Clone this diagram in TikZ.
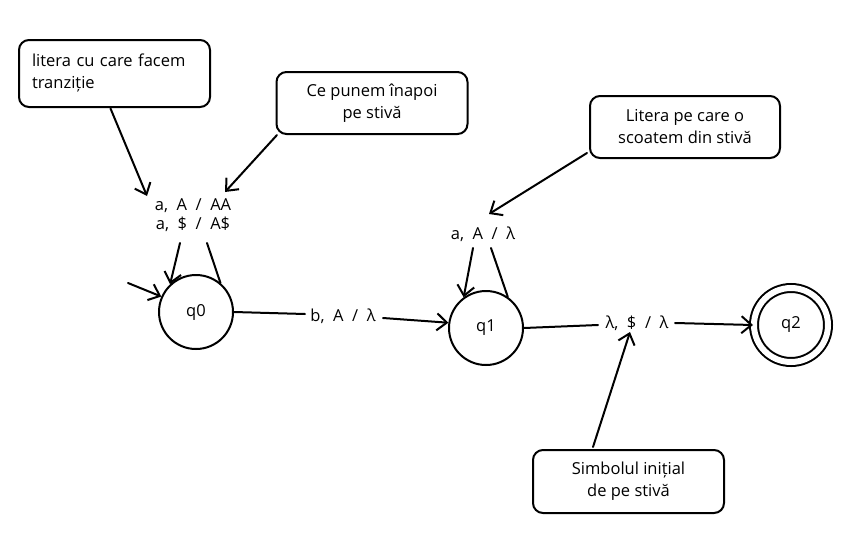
\documentclass[tikz,border=0pt]{standalone}
\usepackage{fontspec}
\setmainfont{Open Sans}
\usetikzlibrary{arrows.meta,calc}
\begin{document}
\begin{tikzpicture}[x=1pt,y=-1pt,
  every node/.style={font=\fontsize{16.5}{22}\selectfont},
  line/.style={line width=2pt, line cap=round},
  arr/.style={line, -{Straight Barb[length=10pt,width=17pt]}},
  state/.style={circle, draw, line width=2pt, minimum size=74pt, inner sep=0pt},
  note/.style={draw, line width=2pt, rounded corners=10pt, minimum width=191pt, minimum height=63pt, align=center, inner sep=0pt},
  lab/.style={inner sep=1pt, align=center}]
\useasboundingbox (0,0) rectangle (857,552);
% notes
\node[note, minimum height=67pt, align=left, text width=165pt] (b1) at (114.5,73.5) {litera cu care facem\\tranziție};
\node[note, minimum height=62pt] (b2) at (372,103) {Ce punem înapoi\\pe stivă};
\node[note, minimum width=190pt, minimum height=62pt] (b3) at (685,127) {Litera pe care o\\scoatem din stivă};
\node[note] (b4) at (628.5,481.5) {Simbolul inițial\\de pe stivă};
% states
\node[state] (q0) at (196,312) {q0};
\node[state] (q1) at (486,328) {q1};
\node[state, double=white, double distance=6pt] (q2) at (791,325) {q2};
% labels
\node[lab] (l0) at (193,215) {a,~ A ~/~ AA\\[-3pt]a,~ \$ ~/~ A\$};
\node[lab] (l1) at (343,316) {b,~ A ~/~ λ};
\node[lab] (l2) at (483,234) {a,~ A ~/~ λ};
\node[lab] (l3) at (637,323) {λ,~ \$ ~/~ λ};
\coordinate (init) at (128,283);
% initial
\draw[arr] (init) -- (q0.156);
% q0 loop
\draw[arr] ($(l0)+(-13,28)$) -- (q0.133);
\draw[line] ($(l0)+(14,28)$) -- (q0.50);
% q0 -> q1
\draw[line] (q0.east) -- ($(l1)+(-38,-2)$);
\draw[arr] ($(l1)+(40,2)$) -- (q1.172);
% q1 loop
\draw[arr] ($(l2)+(-10,14)$) -- (q1.126);
\draw[line] ($(l2)+(8,14)$) -- (q1.55);
% q1 -> q2
\draw[line] (q1.east) -- ($(l3)+(-39,2)$);
\draw[arr] ($(l3)+(38,0)$) -- (q2.west);
% annotations
\draw[arr] ($(b1)+(-4,35)$) -- ($(l0)+(-46,-19)$);
\draw[arr] ($(b2)+(-95,32)$) -- ($(l0)+(32,-23)$);
\draw[arr] ($(b3)+(-98,26)$) -- ($(l2)+(6,-20)$);
\draw[arr] ($(b4)+(-35.5,-34.5)$) -- ($(l3)+(-7,9)$);
\end{tikzpicture}
\end{document}
